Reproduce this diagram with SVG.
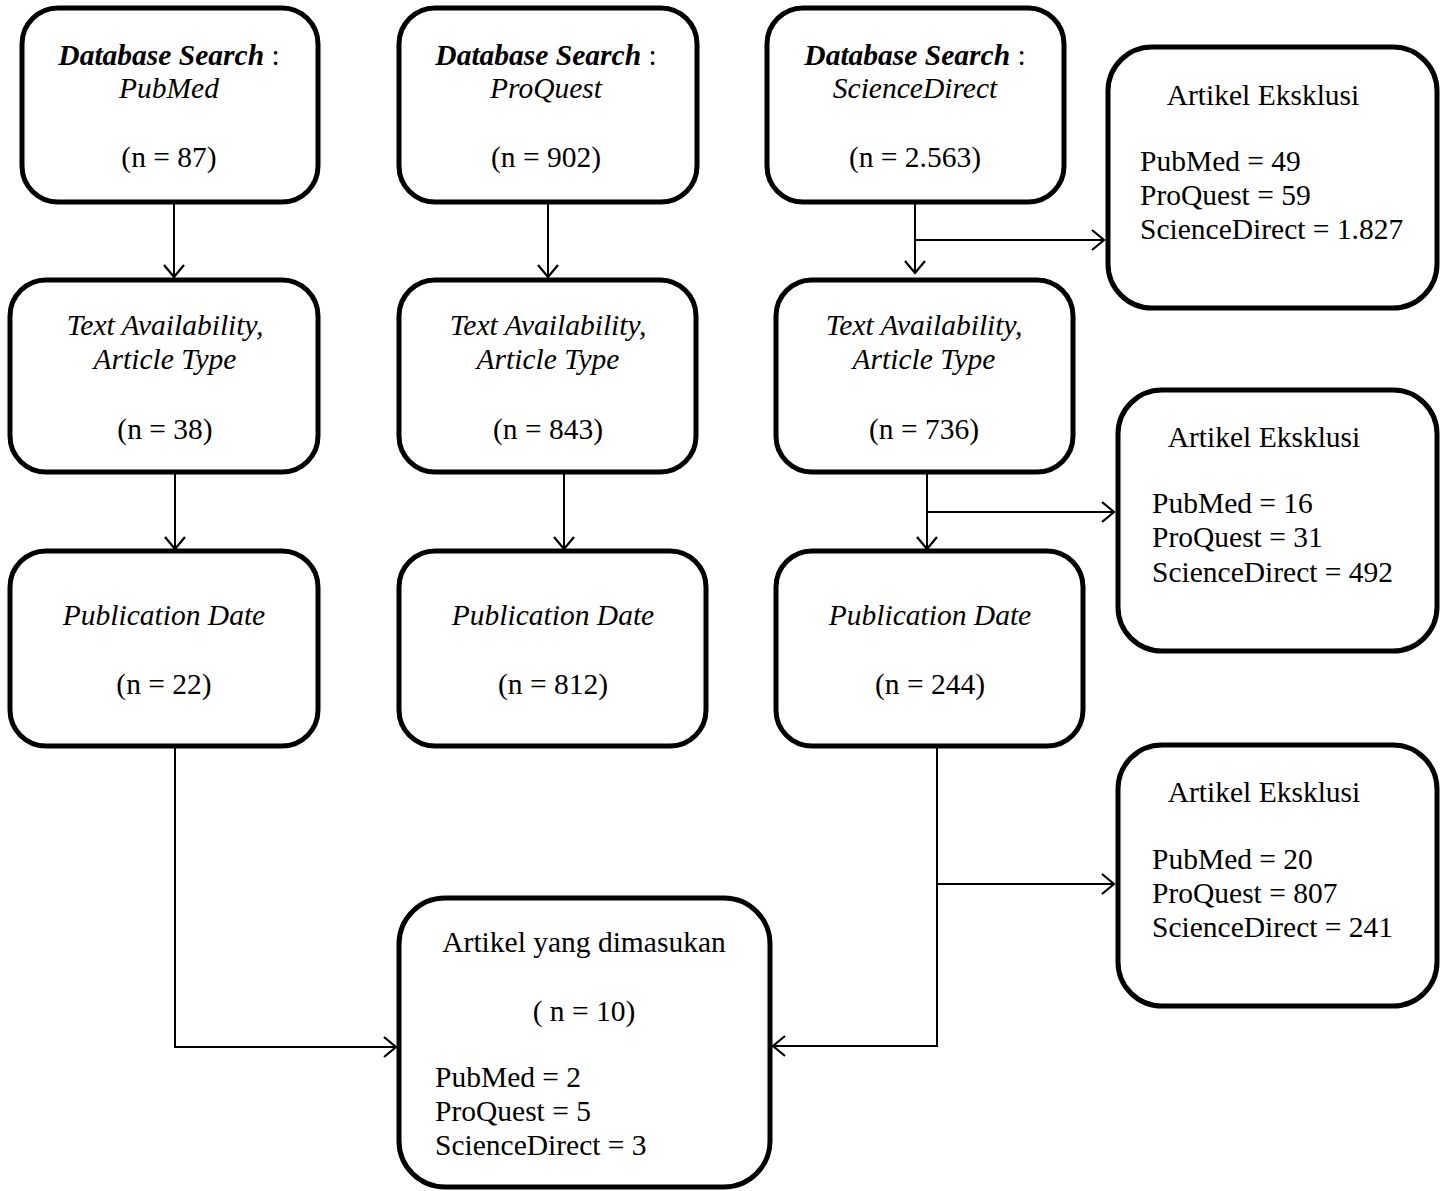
<svg xmlns="http://www.w3.org/2000/svg" width="1441" height="1191" viewBox="0 0 1441 1191">
<style>
.box{fill:#fff;stroke:#000;stroke-width:5}
.t{font-family:"Liberation Serif","Times New Roman",serif;font-size:29.5px;fill:#000}
.c{text-anchor:middle}
.i{font-style:italic}
.b{font-weight:bold}
.ln{fill:none;stroke:#000;stroke-width:2}
</style>
<defs>
<marker id="ah" markerUnits="userSpaceOnUse" markerWidth="26" markerHeight="26" refX="13" refY="11" orient="auto">
<path d="M1,1 L13,11 L1,21" fill="none" stroke="#000" stroke-width="2.2"/>
</marker>
</defs>
<rect width="1441" height="1191" fill="#fff"/>

<g id="connectors">
<line class="ln" x1="174" y1="202" x2="174" y2="277" marker-end="url(#ah)"/>
<line class="ln" x1="548" y1="202" x2="548" y2="277" marker-end="url(#ah)"/>
<line class="ln" x1="915" y1="202" x2="915" y2="273" marker-end="url(#ah)"/>
<line class="ln" x1="915" y1="240" x2="1104" y2="240" marker-end="url(#ah)"/>
<line class="ln" x1="175" y1="473" x2="175" y2="549" marker-end="url(#ah)"/>
<line class="ln" x1="564" y1="473" x2="564" y2="549" marker-end="url(#ah)"/>
<line class="ln" x1="927" y1="473" x2="927" y2="549" marker-end="url(#ah)"/>
<line class="ln" x1="927" y1="512" x2="1114" y2="512" marker-end="url(#ah)"/>
<line class="ln" x1="937" y1="884" x2="1114" y2="884" marker-end="url(#ah)"/>
<polyline class="ln" points="937,747 937,1046 773,1046" marker-end="url(#ah)"/>
<polyline class="ln" points="175,747 175,1047 396,1047" marker-end="url(#ah)"/>
</g>

<g id="db-pubmed">
<rect class="box" x="22" y="8" width="296" height="194" rx="36"/>
<text class="t c" x="169" y="65"><tspan class="i b">Database Search</tspan> :</text>
<text class="t c i" x="169" y="98">PubMed</text>
<text class="t c" x="169" y="167">(n = 87)</text>
</g>
<g id="db-proquest">
<rect class="box" x="399" y="8" width="298" height="194" rx="36"/>
<text class="t c" x="546" y="65"><tspan class="i b">Database Search</tspan> :</text>
<text class="t c i" x="546" y="98">ProQuest</text>
<text class="t c" x="546" y="167">(n = 902)</text>
</g>
<g id="db-sciencedirect">
<rect class="box" x="767" y="8" width="297" height="194" rx="36"/>
<text class="t c" x="915" y="65"><tspan class="i b">Database Search</tspan> :</text>
<text class="t c i" x="915" y="98">ScienceDirect</text>
<text class="t c" x="915" y="167">(n = 2.563)</text>
</g>

<g id="excl-1">
<rect class="box" x="1108" y="47" width="329" height="261" rx="44"/>
<text class="t c" x="1263" y="105">Artikel Eksklusi</text>
<text class="t" x="1140" y="171">PubMed = 49</text>
<text class="t" x="1140" y="205">ProQuest = 59</text>
<text class="t" x="1140" y="239">ScienceDirect = 1.827</text>
</g>

<g id="ta-pubmed">
<rect class="box" x="10" y="280" width="308" height="192" rx="36"/>
<text class="t c i" x="165" y="335">Text Availability,</text>
<text class="t c i" x="165" y="369">Article Type</text>
<text class="t c" x="165" y="439">(n = 38)</text>
</g>
<g id="ta-proquest">
<rect class="box" x="399" y="280" width="297" height="192" rx="36"/>
<text class="t c i" x="548" y="335">Text Availability,</text>
<text class="t c i" x="548" y="369">Article Type</text>
<text class="t c" x="548" y="439">(n = 843)</text>
</g>
<g id="ta-sciencedirect">
<rect class="box" x="776" y="280" width="297" height="192" rx="36"/>
<text class="t c i" x="924" y="335">Text Availability,</text>
<text class="t c i" x="924" y="369">Article Type</text>
<text class="t c" x="924" y="439">(n = 736)</text>
</g>

<g id="excl-2">
<rect class="box" x="1118" y="390" width="319" height="261" rx="44"/>
<text class="t c" x="1264" y="447">Artikel Eksklusi</text>
<text class="t" x="1152" y="513">PubMed = 16</text>
<text class="t" x="1152" y="547">ProQuest = 31</text>
<text class="t" x="1152" y="582">ScienceDirect = 492</text>
</g>

<g id="pd-pubmed">
<rect class="box" x="10" y="551" width="308" height="195" rx="36"/>
<text class="t c i" x="164" y="625">Publication Date</text>
<text class="t c" x="164" y="694">(n = 22)</text>
</g>
<g id="pd-proquest">
<rect class="box" x="399" y="551" width="307" height="195" rx="36"/>
<text class="t c i" x="553" y="625">Publication Date</text>
<text class="t c" x="553" y="694">(n = 812)</text>
</g>
<g id="pd-sciencedirect">
<rect class="box" x="776" y="551" width="307" height="195" rx="36"/>
<text class="t c i" x="930" y="625">Publication Date</text>
<text class="t c" x="930" y="694">(n = 244)</text>
</g>

<g id="excl-3">
<rect class="box" x="1118" y="745" width="319" height="261" rx="44"/>
<text class="t c" x="1264" y="802">Artikel Eksklusi</text>
<text class="t" x="1152" y="869">PubMed = 20</text>
<text class="t" x="1152" y="903">ProQuest = 807</text>
<text class="t" x="1152" y="937">ScienceDirect = 241</text>
</g>

<g id="included">
<rect class="box" x="399" y="898" width="371" height="289" rx="46"/>
<text class="t c" x="584" y="952">Artikel yang dimasukan</text>
<text class="t c" x="584" y="1021">( n = 10)</text>
<text class="t" x="435" y="1087">PubMed = 2</text>
<text class="t" x="435" y="1121">ProQuest = 5</text>
<text class="t" x="435" y="1155">ScienceDirect = 3</text>
</g>
</svg>
